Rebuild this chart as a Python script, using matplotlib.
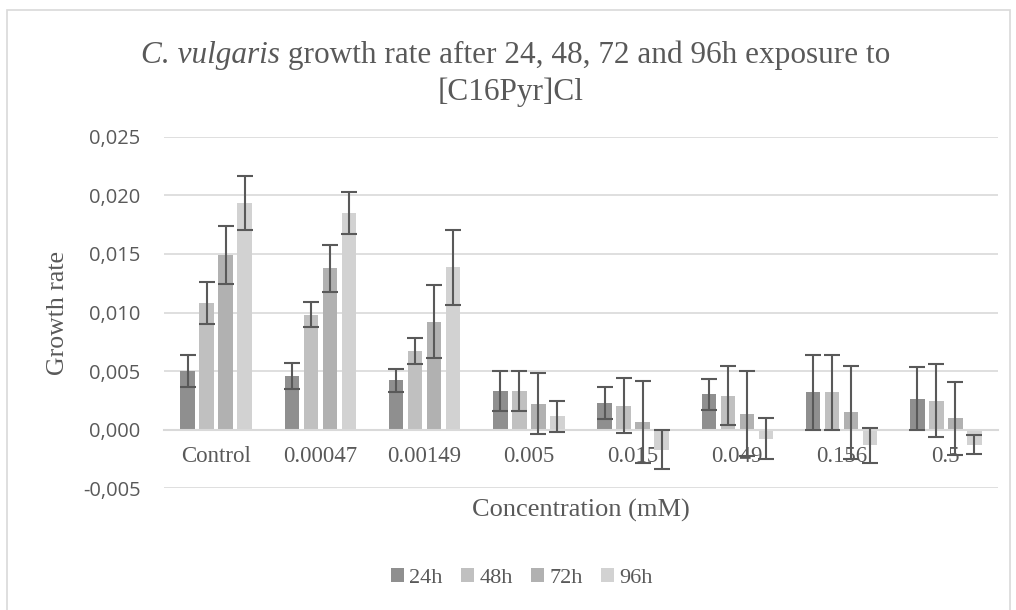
import matplotlib
matplotlib.use("Agg")
import matplotlib.pyplot as plt
import numpy as np
from matplotlib.patches import Rectangle

categories = ["Control", "0.00047", "0.00149", "0.005", "0.015", "0.049", "0.156", "0.5"]
series_names = ["24h", "48h", "72h", "96h"]
v24 = [0.00498, 0.00458, 0.00421, 0.00333, 0.00225, 0.00302, 0.00319, 0.00265]
e24 = [0.00137, 0.00108, 0.00100, 0.00170, 0.00137, 0.00133, 0.00320, 0.00270]
v48 = [0.01085, 0.00983, 0.00669, 0.00333, 0.00205, 0.00290, 0.00319, 0.00248]
e48 = [0.00180, 0.00110, 0.00110, 0.00170, 0.00235, 0.00250, 0.00320, 0.00310]
v72 = [0.01490, 0.01376, 0.00923, 0.00222, 0.00062, 0.00137, 0.00148, 0.00097]
e72 = [0.00245, 0.00200, 0.00310, 0.00260, 0.00350, 0.00360, 0.00400, 0.00310]
v96 = [0.01934, 0.01851, 0.01387, 0.00114, -0.00171, -0.00077, -0.00134, -0.00128]
e96 = [0.00230, 0.00180, 0.00320, 0.00135, 0.00165, 0.00175, 0.00150, 0.00083]
yticks = [-0.005, 0.0, 0.005, 0.010, 0.015, 0.020, 0.025]
title_italic = "C. vulgaris"
title_rest = " growth rate after 24, 48, 72 and 96h exposure to"
title_line2 = "[C16Pyr]Cl"

colors = ["#8f8f8f", "#c0c0c0", "#b1b1b1", "#d2d2d2"]
txt = "#595959"
grid = "#d9d9d9"
serif = ["Liberation Serif", "DejaVu Serif"]
sans = ["Open Sans", "DejaVu Sans"]

W, H = 1016, 610
fig = plt.figure(figsize=(W / 100, H / 100), dpi=100)
fig.patches.append(Rectangle((7 / W, -0.02), (1010 - 7) / W, 1.02 - 10 / H, transform=fig.transFigure,
                             fill=False, edgecolor=grid, linewidth=1.2))

ax = fig.add_axes([164 / W, 1 - 488.3 / H, 834 / W, (488.3 - 136.8) / H])
x = np.arange(len(categories))
bw = 0.14
step = 0.1825
vals = [v24, v48, v72, v96]
errs = [e24, e48, e72, e96]
for i, (v, e) in enumerate(zip(vals, errs)):
    pos = x + (i - 1.5) * step
    ax.bar(pos, v, width=bw, color=colors[i], label=series_names[i], zorder=2)
for i, (v, e) in enumerate(zip(vals, errs)):
    pos = x + (i - 1.5) * step
    ax.errorbar(pos, v, yerr=e, fmt="none", ecolor="#595959", elinewidth=1.5,
                capsize=5.5, capthick=1.5, zorder=3)

ax.set_xlim(-0.5, len(categories) - 0.5)
ax.set_ylim(-0.005, 0.025)
ax.set_yticks(yticks)
ax.set_yticklabels([("%.3f" % t).replace(".", ",") for t in yticks], fontfamily=sans,
                   fontsize=14.5, color=txt)
ax.yaxis.grid(True, color=grid, linewidth=1.2, zorder=0)
ax.set_axisbelow(True)
for s in ["top", "right", "left"]:
    ax.spines[s].set_visible(False)
ax.spines["bottom"].set_position(("data", 0))
ax.spines["bottom"].set_color(grid)
ax.spines["bottom"].set_linewidth(1.5)
ax.tick_params(axis="y", length=0, pad=17)
ax.tick_params(axis="x", length=0, pad=12)
ax.set_xticks(x)
ax.set_xticklabels(categories, fontfamily=serif, fontsize=16.5, color=txt)

fig.text(58 / W, 1 - 313 / H, "Growth rate", rotation=90, ha="center", va="center",
         fontfamily=serif, fontsize=18.5, color=txt)
fig.text(581 / W, 1 - 510 / H, "Concentration (mM)", ha="center", va="center",
         fontfamily=serif, fontsize=19, color=txt)

# Title: italic species name + roman rest, centred as one line
tsize = 22.5
t_it = fig.text(0, 1 - 55 / H, title_italic, ha="left", va="center", fontfamily=serif,
                fontstyle="italic", fontsize=tsize, color=txt)
t_rm = fig.text(0, 1 - 55 / H, title_rest, ha="left", va="center", fontfamily=serif,
                fontsize=tsize, color=txt)
fig.canvas.draw()
r = fig.canvas.get_renderer()
w_it = t_it.get_window_extent(r).width
w_rm = t_rm.get_window_extent(r).width
cx = 516
x0 = cx - (w_it + w_rm) / 2
t_it.set_x(x0 / W)
t_rm.set_x((x0 + w_it) / W)
fig.text(511 / W, 1 - 92 / H, title_line2, ha="center", va="center",
         fontfamily=serif, fontsize=tsize, color=txt)

leg = fig.legend(loc="center", bbox_to_anchor=(522 / W, 1 - 578 / H), ncol=4, frameon=False,
                 prop={"family": serif, "size": 16}, handlelength=0.55, handleheight=0.55,
                 handletextpad=0.25, columnspacing=0.85, labelcolor=txt)

fig.savefig("out.png", dpi=100)
